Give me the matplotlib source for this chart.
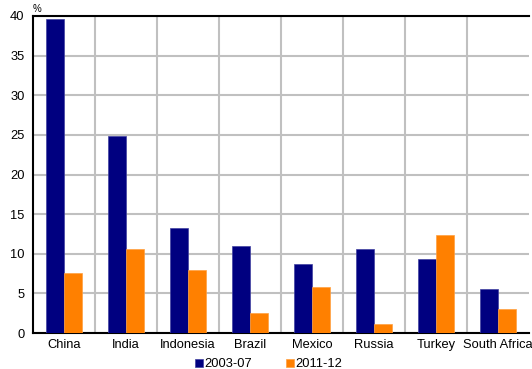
import matplotlib
matplotlib.use("Agg")
import matplotlib.pyplot as plt
import numpy as np

countries = ["China", "India", "Indonesia", "Brazil", "Mexico", "Russia", "Turkey", "South Africa"]
period_a = [39.6, 24.9, 13.2, 11.0, 8.7, 10.6, 9.3, 5.5]
period_b = [7.6, 10.6, 7.9, 2.5, 5.8, 1.1, 12.4, 3.0]
labels = ["2003-07", "2011-12"]
colors = ["#000080", "#ff8000"]

plt.rcParams["font.family"] = ["Liberation Sans", "DejaVu Sans"]

fig = plt.figure(figsize=(5.32, 3.69), dpi=100)
ax = fig.add_axes([33 / 532, 36 / 369, 496 / 532, 317 / 369])

x = np.arange(len(countries))
w = 0.29
ax.bar(x - w / 2, period_a, w, color=colors[0], edgecolor="#4040a0", linewidth=0.5,
       label=labels[0], zorder=3)
ax.bar(x + w / 2, period_b, w, color=colors[1], edgecolor="#ffa040", linewidth=0.5,
       label=labels[1], zorder=3)

ax.set_xlim(-0.5, len(countries) - 0.5)
ax.set_ylim(0, 40)
ax.set_yticks(range(0, 41, 5))
ax.set_xticks(x)
ax.set_xticklabels(countries, fontsize=9.3)
ax.tick_params(axis="y", labelsize=9.3, length=0, pad=6)
ax.tick_params(axis="x", length=0, pad=4)

# vertical separators between categories plus horizontal value gridlines
ax.set_xticks(np.arange(0.5, len(countries) - 0.5, 1), minor=True)
ax.tick_params(axis="x", which="minor", length=0)
ax.grid(axis="x", which="minor", color="#c0c0c0", linewidth=1.5, zorder=0)
ax.grid(axis="y", which="major", color="#c0c0c0", linewidth=1.5, zorder=0)

for side in ["left", "bottom", "top"]:
    ax.spines[side].set_linewidth(1.5)
    ax.spines[side].set_color("black")
ax.spines["right"].set_visible(False)

ax.text(0.0, 1.005, "%", transform=ax.transAxes, fontsize=7, ha="left", va="bottom")

fig.legend(loc="lower center", bbox_to_anchor=(0.505, -0.035), ncol=2, frameon=False,
           fontsize=9.3, handlelength=0.6, handleheight=0.6, handletextpad=0.15,
           columnspacing=2.6)

fig.savefig("out.png", dpi=100)
